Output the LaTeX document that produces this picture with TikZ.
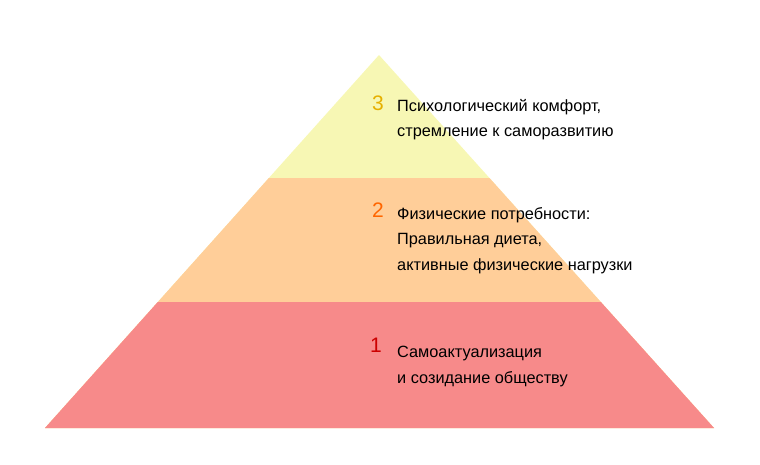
\documentclass[tikz,border=0pt]{standalone}
\usepackage{fontspec}
\setmainfont{Liberation Sans}
\definecolor{lvlthree}{RGB}{247,247,180}
\definecolor{lvltwo}{RGB}{255,206,153}
\definecolor{lvlone}{RGB}{247,138,138}
\definecolor{numthree}{RGB}{230,176,0}
\definecolor{numtwo}{RGB}{255,102,0}
\definecolor{numone}{RGB}{204,0,0}
\begin{document}
\begin{tikzpicture}[x=1pt,y=-1pt,line join=round]
				\tikzset{num style/.style={font=\fontsize{21}{21}\selectfont,inner sep=0pt,anchor=base east},
					txt style/.style={font=\fontsize{16.3}{25.3}\selectfont,inner sep=0pt,anchor=base west,align=left}}
				\useasboundingbox (0,0) rectangle (760,465);
				\coordinate (apex) at (379,55);
				\coordinate (br) at (714,428);
				\coordinate (bl) at (45,428);
				\begin{scope}
				\clip (apex)--(br)--(bl)--cycle;
				\fill[lvlthree] (0,50) rectangle (760,430);
				\fill[lvltwo] (0,178) rectangle (760,430);
				\fill[lvlone] (0,302) rectangle (760,430);
				\end{scope}
				% base anchor sits on the last line
				\node[num style,text=numthree] (num3) at (384,111) {3};
				\node[txt style] (txt3) at (397,137) {Психологический комфорт,\\стремление к саморазвитию};
				\node[num style,text=numtwo] (num2) at (384,218) {2};
				\node[txt style] (txt2) at (397,270) {Физические потребности:\\Правильная диета,\\активные физические нагрузки};
				\node[num style,text=numone] (num1) at (382,352) {1};
				\node[txt style] (txt1) at (397,383) {Самоактуализация\\и созидание обществу};
			\end{tikzpicture}
\end{document}
